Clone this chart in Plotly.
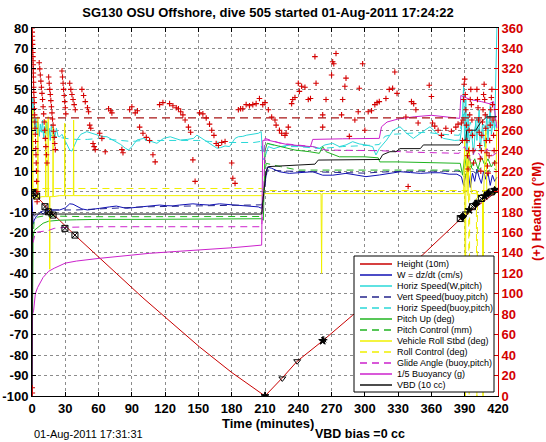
import plotly.graph_objects as go

# ---------------- data ----------------
TITLE = "SG130 OSU Offshore, dive 505 started 01-Aug-2011 17:24:22"
X_LABEL = "Time (minutes)"
Y2_LABEL = "(+) Heading (°M)"
DATE_TEXT = "01-Aug-2011 17:31:31"
VBD_TEXT = "VBD bias =0 cc"

X_TICKS = [0, 30, 60, 90, 120, 150, 180, 210, 240, 270, 300, 330, 360, 390, 420]
Y_TICKS = [-100, -90, -80, -70, -60, -50, -40, -30, -20, -10, 0, 10, 20, 30, 40, 50, 60, 70, 80]
Y_LABELS = ["-100", "-90", "-80", "-70", "-60", "-50", "-40", "-30", "-20", "-10",
            "0", "10", "20", "30", "40", "50", "60", "70", "80"]
H_TICKS = [0, 20, 40, 60, 80, 100, 120, 140, 160, 180, 200, 220, 240, 260, 280, 300, 320, 340, 360]

LEGEND_LABELS = ["Height (10m)", "W = dz/dt (cm/s)", "Horiz Speed(W,pitch)",
                 "Vert Speed(buoy,pitch)", "Horiz Speed(buoy,pitch)", "Pitch Up (deg)",
                 "Pitch Control (mm)", "Vehicle Roll Stbd (deg)", "Roll Control (deg)",
                 "Glide Angle (buoy,pitch)", "1/5 Buoyancy (g)", "VBD (10 cc)"]

HEIGHT_T = [0, 20, 40, 100, 151, 180, 210, 225, 239, 262, 289, 352, 388, 419]
HEIGHT_V = [0, -11.5, -22, -52, -76, -88.5, -100, -91.5, -83, -73, -60.5, -31, -12.5, 0]

W_T = [0, 1, 2, 4, 6, 8, 10, 13, 16, 20,
       25, 30, 34, 37, 40, 45, 50, 55, 61, 70,
       76, 85, 92, 100, 108, 115, 121, 127, 133, 140,
       145, 151, 160, 169, 178, 187, 196, 204, 207, 209,
       212, 216, 223, 232, 242, 253, 262, 271, 283, 292,
       301, 313, 322, 332, 341, 350, 359, 368, 376, 383,
       387, 389, 391, 393, 395, 397, 399, 401, 403, 405,
       407, 409, 411, 413, 415, 417, 419]
W_V = [-3, -16, -14, -12, -11, -10, -11, -9.5, -9, -9,
       -9, -8, -6, -6.2, -7, -8.5, -9, -8.8, -8.2, -7.5,
       -7.1, -8.2, -7.8, -7.4, -7, -6.6, -6.9, -7, -6.6, -6.4,
       -6, -6.3, -6.6, -6, -6.4, -6.6, -7, -7.5, -8.2, 0,
       12, 11.4, 9.7, 8.9, 9.3, 9.7, 8, 8, 8.9, 8.2,
       7.3, 8.1, 9, 9.7, 9.3, 8.9, 9.2, 9.2, 8.5, 8.5,
       7.3, 3, 8, 10, 2, 9, 5, 11, 7, 4,
       10, 6, 9, 3, 8, 5, 7]

VS_T = [0, 2, 5, 10, 20, 40, 60, 100, 150, 200, 207, 209, 212,
        230, 260, 300, 313, 340, 385, 390, 395, 400, 405, 410, 415, 419]
VS_V = [-10, -12, -10.5, -9.5, -9, -9, -8.5, -7.5, -7, -6.5, -6.5, 0, 10.5,
        10, 9.5, 9, 9.5, 10, 10, 8, 11, 9, 10.5, 8.5, 10, 9.5]

HSW_T = [0, 0.7, 1.5, 2.5, 3.5, 4.5, 5.5, 6.5, 7.5, 8.5,
         9.5, 10.5, 11.5, 12.5, 13.5, 14.5, 15.5, 16.5, 17.5, 18.5,
         19.5, 20.5, 22, 23.5, 25, 27, 29.6, 32, 34, 36,
         38, 40.4, 44, 49.4, 54, 58.5, 63, 67.6, 72, 76.6,
         80, 84.1, 87, 90, 94.6, 100.6, 104, 108, 112.6, 118.6,
         124.6, 129, 133.6, 140, 145.6, 148.6, 153, 157.6, 162, 166.7,
         170, 174, 178, 183, 186, 190, 193.6, 198, 204, 206.6,
         208, 210, 213, 218, 224, 233, 245, 253, 259, 264,
         271, 277, 283, 289, 295, 301, 307, 310, 313, 319.6,
         325.6, 331.7, 337.7, 343.7, 349.7, 354, 358.7, 364.7, 370.8, 376.8,
         381, 385.8, 387, 388, 389, 390, 391, 392, 393, 394,
         396, 398, 400, 401, 403, 404, 406, 408, 410, 411,
         413, 414, 416, 417, 418.5, 419]
HSW_V = [10, 46, 40, 30, 36, 28, 34, 27, 33, 29,
         35, 26, 32, 28, 34, 27, 31, 25, 33, 28,
         30, 26, 31, 27, 26.8, 28, 25.2, 22, 20.3, 19.8,
         22, 25.2, 28, 29.3, 28.5, 27.6, 27, 26.8, 25.5, 24.4,
         23, 21.2, 20.3, 22, 25.2, 26, 25, 24.4, 23.6, 26,
         26.8, 26, 25.2, 25.5, 26, 27.6, 26, 24.4, 23, 21.2,
         21.5, 22.3, 22, 26, 26.8, 27, 27.6, 28, 28.5, 29.3,
         15.4, 17, 22, 21, 22, 22.8, 22, 22, 21.2, 22.8,
         23.6, 22, 22.8, 24.4, 23.3, 22.8, 22, 17.9, 21, 25.2,
         30, 31.7, 28.5, 26, 28.5, 30, 31.7, 28.5, 26, 25.2,
         25, 25.2, 30, 38, 52, 22, 45, 16, 38, 24,
         30, 18, 35, 25, 40, 20, 33, 22, 38, 25,
         42, 28, 35, 30, 80, 80]

HSB_T = [1, 3, 6, 10, 15, 20, 30, 40, 50, 60,
         70, 80, 90, 100, 110, 120, 130, 140, 150, 160,
         170, 180, 190, 200, 206, 208, 210, 215, 225, 240,
         260, 280, 300, 313, 318, 325, 340, 355, 370, 385,
         389, 392, 395, 398, 401, 404, 407, 410, 413, 416,
         419]
HSB_V = [35, 32, 30, 29, 28, 27, 26, 25.5, 25.5, 26,
         25.5, 25, 24.5, 25, 25, 25, 25, 25, 25, 24.5,
         24, 24, 24, 24, 24.5, 18, 24, 23, 22, 22,
         21, 22, 22.5, 23, 27, 28, 28.5, 29, 28, 27.5,
         38, 24, 34, 27, 36, 26, 33, 28, 37, 30,
         34]

PITCH_T = [0, 0.5, 1, 2, 4, 6, 10, 15, 25, 40,
           60, 100, 150, 200, 207, 208.5, 210, 212, 224, 237,
           250, 259, 262, 265, 277, 300, 312, 313.5, 330, 350,
           370, 386, 388, 390, 392, 394, 396, 399, 402, 405,
           408, 411, 414, 417, 419]
PITCH_V = [-98, -60, -22, -19, -18, -17, -15.5, -14.5, -14, -13.8,
           -13.6, -13.6, -13.5, -13.3, -13.3, -14, 20, 23.6, 22, 20.3,
           19.5, 18.7, 22, 19.5, 17, 17, 16.5, 14.5, 14.5, 14.2,
           14, 13.8, 8, 17, 10, 18, 12, 16, 11, 17,
           13, 16, 12, 15, 14]

PITCHC_T = [0, 1, 2, 5, 10, 20, 50, 100, 150, 200, 207, 209, 211,
            224, 240, 260, 300, 340, 385, 390, 395, 400, 405, 410, 415, 419]
PITCHC_V = [-30, -20, -14, -12.5, -12, -12, -12.3, -12.3, -12.3, -12.2, -12.2, 0, 13.8,
            12.2, 10.5, 10.5, 10.5, 10.5, 10.5, 7, 12.5, 9, 12, 9.5, 11.5, 10.5]

ROLL_T = [0, 0.5, 0.7, 0.9, 2, 4, 5.1, 5.3, 5.5, 9,
          12.2, 12.4, 12.6, 14.4, 14.6, 14.8, 15.8, 16, 16.2, 18.8,
          19, 19.2, 25, 29.3, 29.5, 29.7, 37.3, 37.5, 37.7, 50,
          100, 150, 200, 207, 209, 230, 260.5, 261, 261.5, 300,
          385, 389, 390, 390.5, 391, 392, 393, 394, 396, 400,
          405, 406, 406.5, 407, 409, 410, 413, 418, 419]
ROLL_V = [-3, -3, 40, -3, -4, -3, -3, 36.6, -3, -2.5,
          -2.5, 35, -2.5, -2.5, 36.6, -2.5, -2.5, -38, -2.5, -2.5,
          31.7, -2.5, -2, -2, 33.4, -2, -2, 35, -2, -2,
          -2, -2, -2, -2, -1, -1, -1, -40, -1, -1,
          -1, -1, 25, -100, -2, 20, -2, 22, -1, -1,
          -2, -2, -100, -2, 30, -2, -1, -1, 35]

ROLLC_T = [0, 2, 50, 100, 150, 207, 209, 300, 385, 393.5, 394, 394.5, 400.5, 401, 401.5, 419]
ROLLC_V = [0, 1.5, 1.5, 1.5, 1.5, 1.5, 0.5, 0.5, 0.5, 0.5, -100, 0.5, 0.5, -100, 0.5, 0.5]

GLIDE_T = [1, 3, 8, 15, 20, 30, 60, 100, 150, 200, 207, 209, 210,
           224, 253, 265, 290, 313, 340, 385, 390, 395, 400, 405, 410, 415, 419]
GLIDE_V = [-25, -20, -19.6, -19, -18, -17.5, -17.2, -17.2, -17.2, -17.2, -17.2, 0, 26,
           23.6, 22, 20.3, 20, 20, 19.3, 18.7, 22, 15, 21, 16.5, 21, 17.5, 19]

BUOY_T = [0, 0.5, 1.5, 3, 5, 10, 15, 20, 30, 40,
          60, 80, 106, 130, 151, 180, 207, 208, 212, 230,
          251, 253, 280, 313, 315, 320, 330, 345, 360, 375,
          385.5, 386.5, 395, 405, 412, 416, 418.5, 419]
BUOY_V = [-100, -60, -58, -50, -47, -42, -39, -37.5, -35, -34,
          -32.7, -31.5, -30.2, -29.3, -28.6, -27.5, -26.2, 25, 25.2, 23,
          22, 25.5, 25.8, 26, 31.7, 34, 35.5, 36.6, 37.3, 36.5,
          35.8, 47, 45, 44, 43, 44, 31, 31]

VBD_T = [0, 0.5, 50, 100, 150, 207, 209, 211, 213, 240,
         255, 258, 300, 313.6, 316, 322.6, 328, 331.7, 350, 352.7,
         385, 388.8, 391, 391.8, 400, 403.8, 410, 419]
VBD_V = [-100, -11, -11, -11, -11, -11, 0, 10, 12.2, 13,
         13.4, 15.4, 15.6, 15.7, 18, 19.5, 19.5, 21, 21, 22.8,
         22.8, 25.2, 25.2, 30, 30, 33.4, 36.6, 36.6]

MARK_T = [0, 1, 2, 4.2, 11.7, 14.7, 16, 19, 29.7, 38.7,
          210, 225.6, 239, 262, 263, 386, 388, 391, 394, 397,
          400, 402, 405, 408, 411, 414, 417]
MARK_V = [0, -0.5, -1.2, -2.2, -7.4, -9.9, -10.7, -11.5, -18, -21.3,
          -100, -91.4, -83, -73, -72.5, -13.2, -12.3, -10.7, -9, -7.4,
          -6, -5, -3.4, -2.2, -0.9, -0.2, 0.6]

HEAD_DESIRED = 272
HEAD_T = [0.1, 0.2, 0.3, 0.4, 0.5, 0.6, 0.7, 0.8, 0.9, 1.0,
          1.1, 1.2, 1.3, 1.4, 1.5, 1.6, 1.8, 2.0, 2.2, 2.4,
          2.6, 2.8, 3.0, 3.2, 3.4, 3.6, 3.8, 4.0, 4.2, 4.4,
          4.6, 0.2, 0.3,
          6.5, 7, 7.5, 8, 8.5, 9, 9.5, 10, 10.5, 11, 11.5, 12, 12.5, 13, 13.5,
          15, 15.5, 16, 16.5, 17, 17.5, 18, 18.5, 19, 19.5, 20, 20.5, 21,
          27, 27.5, 28, 28.5, 29, 29.5, 30, 30.5,
          34, 35, 36, 37, 38, 39,
          45, 46.5, 48,
          50, 51, 52, 53, 55, 56, 57, 61, 63, 66,
          69, 71, 72, 81, 82, 88, 90, 93, 95, 97,
          100, 103, 106, 109, 111, 115, 118, 124, 127, 130,
          132, 134, 136, 138, 141, 143, 145, 147, 151, 154,
          157, 160, 162, 164, 166, 168, 171, 174, 180, 181,
          183, 186, 188, 190, 193, 196, 199, 202, 205, 208,
          210, 213, 216, 219, 220, 223, 225, 228, 229, 231,
          234, 235, 237, 240, 241, 243, 246, 249, 251, 255,
          256, 262, 262, 265, 270, 271, 272, 274, 279, 280,
          282, 283, 286, 291, 294, 295, 298, 300, 303, 306,
          309, 311, 313, 319, 322, 325, 327, 329, 337, 339,
          342, 344, 346, 348, 358, 360, 361, 363, 366, 369,
          373, 378, 382, 384, 387,
          388, 388.5, 389, 389.5, 390, 390.5, 391, 391.5, 392, 392.5,
          393, 393.5, 394, 394.5, 395, 395.5, 396, 396.5, 397, 397.5, 398,
          401, 401.5, 402, 402.5, 403, 403.5, 404, 404.5, 405, 405.5,
          406, 406.5, 407, 407.5, 408, 408.5, 409, 409.5, 410, 410.5,
          411, 412, 412.5, 413, 413.5, 414, 414.5, 415, 415.5, 416,
          416.5, 417]
HEAD_V = [360, 356, 352, 348, 344, 340, 336, 332, 328, 324,
          320, 316, 312, 307, 302, 297, 292, 287, 281, 275,
          268, 262, 256, 249, 242, 236, 228, 220, 210, 200,
          190, 8, 3,
          326, 320, 314, 308, 302, 296, 290, 283, 276, 268, 260, 252, 244, 236, 228,
          312, 306, 300, 295, 289, 283, 277, 271, 265, 259, 253, 247, 241,
          318, 312, 306, 300, 294, 288, 282, 276,
          306, 300, 295, 290, 285, 280,
          300, 294, 288,
          282, 278, 265, 262, 247, 244, 241, 257, 252, 239,
          281, 279, 277, 241, 238, 280, 283, 277, 279, 263,
          257, 253, 250, 236, 229, 285, 287, 286, 284, 282,
          281, 278, 275, 270, 263, 258, 231, 210, 277, 276,
          272, 266, 260, 255, 247, 245, 248, 249, 228, 213,
          208, 280, 281, 281, 285, 284, 285, 286, 291, 285,
          287, 280, 273, 270, 265, 260, 257, 255, 257, 263,
          286, 290, 292, 306, 298, 303, 302, 290, 291, 332,
          306, 275, 263, 290, 314, 327, 325, 335, 275, 290,
          303, 311, 254, 270, 278, 301, 325, 260, 278, 279,
          285, 287, 288, 291, 300, 301, 317, 296, 273, 205,
          288, 286, 280, 267, 304, 293, 267, 264, 260, 255,
          262, 259, 263, 266, 267,
          250, 270, 290, 305, 310, 295, 280, 265, 250, 235,
          222, 240, 260, 275, 290, 300, 285, 270, 255, 240, 228,
          300, 290, 282, 270, 258, 245, 232, 220, 240, 255,
          268, 280, 295, 305, 290, 275, 262, 250, 238, 225,
          218, 235, 250, 265, 280, 292, 300, 285, 270, 255,
          240, 228]

# ---------------- styling ----------------
FONT = "Liberation Sans, Arial, Helvetica, sans-serif"
RED = "#d40000"
C_HEIGHT = "#c80000"
C_W = "#1010b4"
C_HS = "#2ad8d8"
C_VS = "#24248c"
C_PITCH = "#20b420"
C_ROLL = "#f0f000"
C_MAG = "#cc22cc"
C_VBD = "#111111"
DASH = "7px,5px"

SERIES = [
    (HEIGHT_T, HEIGHT_V, C_HEIGHT, "solid"),
    (W_T, W_V, C_W, "solid"),
    (HSW_T, HSW_V, C_HS, "solid"),
    (VS_T, VS_V, C_VS, DASH),
    (HSB_T, HSB_V, C_HS, DASH),
    (PITCH_T, PITCH_V, C_PITCH, "solid"),
    (PITCHC_T, PITCHC_V, C_PITCH, DASH),
    (ROLL_T, ROLL_V, C_ROLL, "solid"),
    (ROLLC_T, ROLLC_V, C_ROLL, DASH),
    (GLIDE_T, GLIDE_V, C_MAG, DASH),
    (BUOY_T, BUOY_V, C_MAG, "solid"),
    (VBD_T, VBD_V, C_VBD, "solid"),
]

fig = go.Figure()
for t, v, col, dash in SERIES:
    fig.add_trace(go.Scatter(x=t, y=v, mode="lines", showlegend=False, hoverinfo="skip",
                             line=dict(color=col, width=1, dash=dash)))

MARK_SYMBOLS = ["triangle-down-open", "square-x-open", "diamond-open", "square-x-open",
                "square-x-open", "square-x-open", "triangle-down-open", "square-x-open",
                "square-x-open", "square-x-open", "star", "triangle-down-open",
                "triangle-down-open", "star", "asterisk-open", "square-x-open", "diamond",
                "triangle-down-open", "star", "square-x-open", "diamond",
                "triangle-down-open", "square-x-open", "star", "diamond", "square-x-open",
                "hexagram"]
fig.add_trace(go.Scatter(x=MARK_T, y=MARK_V, mode="markers", showlegend=False, hoverinfo="skip",
                         marker=dict(symbol=MARK_SYMBOLS, size=6, color="black",
                                     line=dict(color="black", width=1))))

# heading on the right axis
fig.add_trace(go.Scatter(x=[X_TICKS[0], X_TICKS[-1]], y=[HEAD_DESIRED, HEAD_DESIRED],
                         mode="lines", yaxis="y2", showlegend=False, hoverinfo="skip",
                         line=dict(color="#a81414", width=1.2, dash="8px,5px")))
fig.add_trace(go.Scatter(x=HEAD_T, y=HEAD_V, mode="markers", yaxis="y2", showlegend=False,
                         hoverinfo="skip",
                         marker=dict(symbol="cross-thin", size=4,
                                     line=dict(color=RED, width=1.1))))

# ---------------- layout ----------------
W_PX, H_PX = 546, 442
L, R, T, B = 32, 48, 28, 46
PW, PH = W_PX - L - R, H_PX - T - B


def px(x):
    return (x - L) / PW


def py(y):
    return (H_PX - B - y) / PH


tickfont = dict(family=FONT, size=13, color="black", weight="bold")

fig.update_layout(
    width=W_PX, height=H_PX,
    margin=dict(l=L, r=R, t=T, b=B, autoexpand=False),
    paper_bgcolor="white", plot_bgcolor="white",
    font=dict(family=FONT, size=13, color="black"),
    showlegend=False,
    title=dict(text=TITLE, x=px(268), xref="paper", xanchor="center",
               y=1 - 12 / H_PX, yref="container", yanchor="middle",
               font=dict(family=FONT, size=13, color="black", weight="bold")),
    xaxis=dict(range=[X_TICKS[0], X_TICKS[-1]], tickvals=X_TICKS, automargin=False,
               ticktext=[str(v) for v in X_TICKS], ticks="inside", ticklen=4,
               tickcolor="black", showline=True, linecolor="black", linewidth=1,
               mirror="ticks", showgrid=True, gridcolor="#8c8c8c", griddash="dot",
               gridwidth=1, zeroline=False, tickfont=tickfont),
    yaxis=dict(range=[Y_TICKS[0], Y_TICKS[-1]], tickvals=Y_TICKS, ticktext=Y_LABELS,
               automargin=False,
               ticks="inside", ticklen=4, tickcolor="black", showline=True,
               linecolor="black", linewidth=1, showgrid=True, gridcolor="#8c8c8c",
               griddash="dot", gridwidth=1, zeroline=False, tickfont=tickfont),
    yaxis2=dict(range=[H_TICKS[0], H_TICKS[-1]], tickvals=H_TICKS, automargin=False,
                ticktext=[str(v) for v in H_TICKS], overlaying="y", side="right",
                ticks="inside", ticklen=4, tickcolor=RED, showline=True, linecolor=RED,
                linewidth=1, showgrid=False, zeroline=False,
                tickfont=dict(family=FONT, size=13, color=RED, weight="bold")),
)

annotations = [
    dict(text=X_LABEL, x=px(268), y=py(423.5), xref="paper", yref="paper",
         xanchor="center", yanchor="middle", showarrow=False,
         font=dict(family=FONT, size=13, color="black", weight="bold")),
    dict(text=Y2_LABEL, x=px(536), y=0.5, xref="paper", yref="paper", textangle=-90,
         xanchor="center", yanchor="middle", showarrow=False,
         font=dict(family=FONT, size=13, color=RED, weight="bold")),
    dict(text=DATE_TEXT, x=px(32), y=py(434), xref="paper", yref="paper",
         xanchor="left", yanchor="middle", showarrow=False,
         font=dict(family=FONT, size=11, color="black")),
    dict(text=VBD_TEXT, x=px(360), y=py(434), xref="paper", yref="paper",
         xanchor="center", yanchor="middle", showarrow=False,
         font=dict(family=FONT, size=12.5, color="black", weight="bold")),
]

# manual legend (compact, as in the reference)
shapes = [dict(type="rect", xref="paper", yref="paper", x0=px(354), x1=px(494),
               y0=py(392), y1=py(256), fillcolor="white",
               line=dict(color="black", width=1), layer="above")]
for i, (label, (_, _, col, dash)) in enumerate(zip(LEGEND_LABELS, SERIES)):
    yy = py(264 + 11 * i)
    shapes.append(dict(type="line", xref="paper", yref="paper", x0=px(360), x1=px(392),
                       y0=yy, y1=yy, layer="above",
                       line=dict(color=col, width=1.5, dash=dash)))
    annotations.append(dict(text=label, x=px(395), y=yy, xref="paper", yref="paper",
                            xanchor="left", yanchor="middle", showarrow=False,
                            font=dict(family=FONT, size=9, color="black")))

fig.update_layout(shapes=shapes, annotations=annotations)
fig.write_html("out.html", config={"displayModeBar": False},
               post_script="document.body.style.margin='0px';document.body.style.overflow='hidden';")
